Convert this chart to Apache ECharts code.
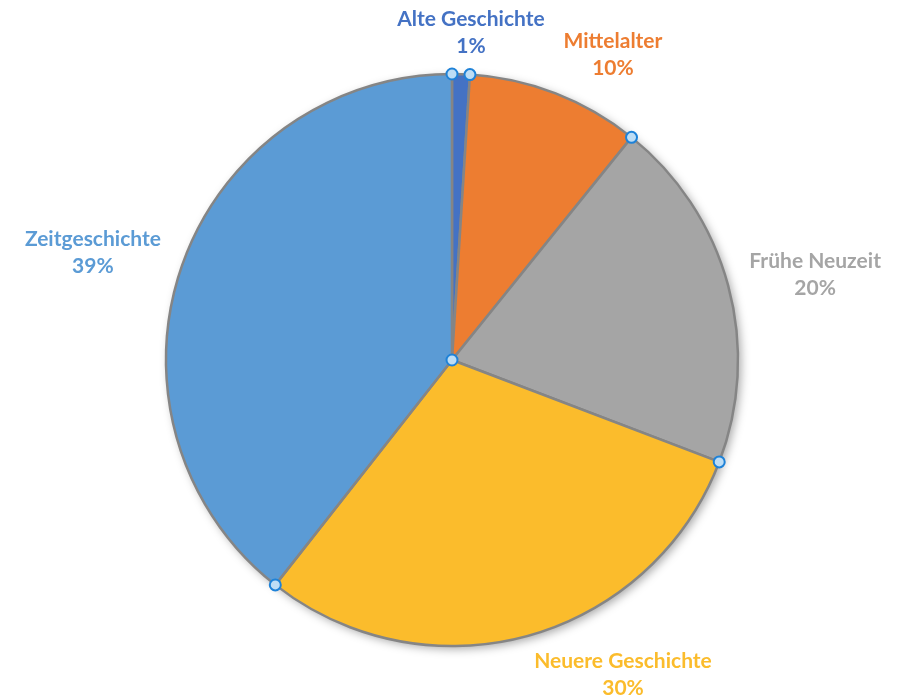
<!DOCTYPE html>
<html>
<head>
<meta charset="utf-8">
<script src="https://cdn.jsdelivr.net/npm/echarts@6/dist/echarts.min.js"></script>
<style>html,body{margin:0;padding:0;background:#fff}#c{width:907px;height:700px}</style>
</head>
<body>
<div id="c"></div>
<script>
const categories = ['Alte Geschichte', 'Mittelalter', 'Frühe Neuzeit', 'Neuere Geschichte', 'Zeitgeschichte'];
const values = [1.0, 9.8, 20.0, 29.8, 39.4];
const colors = ['#4472C4', '#ED7D31', '#A5A5A5', '#FBBC2C', '#5B9BD5'];

const CX = 452, CY = 360, R = 286, GAPX = 22, GAPY = 14;
const total = values.reduce((a, b) => a + b, 0);
const cum = [];
let acc = 0;
values.forEach(v => { cum.push(acc); acc += v; });
function dirAt(frac) {
  const a = frac * 2 * Math.PI;
  return [Math.sin(a), -Math.cos(a)];
}
const clamp = (v) => Math.max(-1, Math.min(1, v));

const chart = echarts.init(document.getElementById('c'), null, { renderer: 'canvas' });

// selection handles at slice boundaries and centre, derived from data
const handles = [];
cum.forEach(c => {
  const d = dirAt(c / total);
  handles.push({ x: CX + d[0] * R, y: CY + d[1] * R });
});
handles.push({ x: CX, y: CY });

chart.setOption({
  backgroundColor: '#ffffff',
  animation: false,
  series: [
    {
      type: 'pie',
      silent: true,
      center: [CX, CY],
      radius: R,
      label: { show: false },
      labelLine: { show: false },
      data: [{ value: 1, itemStyle: { color: '#ffffff', shadowBlur: 10, shadowOffsetX: 3, shadowOffsetY: 3, shadowColor: 'rgba(0,0,0,0.35)' } }],
      z: 1
    },
    {
      type: 'pie',
      center: [CX, CY],
      radius: R,
      startAngle: 90,
      clockwise: true,
      z: 2,
      itemStyle: { borderColor: '#858585', borderWidth: 2.5 },
      label: {
        show: true,
        position: 'outside',
        formatter: p => p.name + '\n' + Math.round(p.percent) + '%',
        fontFamily: 'Lato, "Liberation Sans", sans-serif',
        fontWeight: 'bold',
        fontSize: 21,
        lineHeight: 27,
        align: 'center',
        overflow: 'none'
      },
      labelLine: { show: false },
      labelLayout: function (params) {
        const i = params.dataIndex;
        const mid = (cum[i] + values[i] / 2) / total;
        const d = dirAt(mid);
        const px = CX + d[0] * (R + GAPX);
        const py = CY + d[1] * (R + GAPY);
        const w = params.labelRect.width, h = params.labelRect.height;
        return {
          x: px + (w / 2) * clamp(4 * d[0]),
          y: py + (h / 2) * d[1],
          align: 'center',
          verticalAlign: 'middle'
        };
      },
      data: categories.map((n, i) => ({
        name: n,
        value: values[i],
        itemStyle: { color: colors[i] },
        label: { color: colors[i] }
      }))
    }
  ],
  graphic: handles.map(h => ({
    type: 'circle',
    shape: { cx: h.x, cy: h.y, r: 5.5 },
    style: { fill: '#BDDDF5', stroke: '#1E82D8', lineWidth: 2 },
    z: 100
  }))
});
</script>
</body>
</html>
